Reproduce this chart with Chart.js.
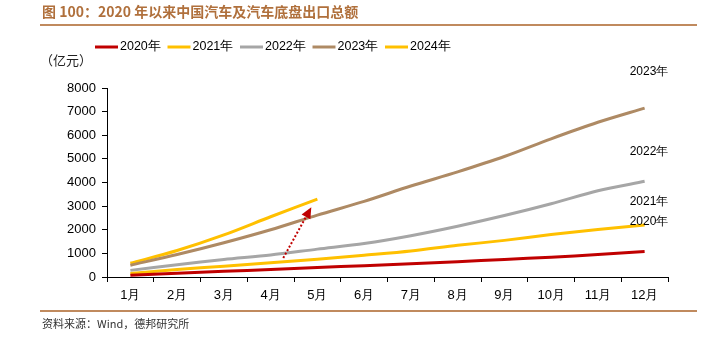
<!DOCTYPE html>
<html>
<head>
<meta charset="utf-8">
<script src="https://cdn.jsdelivr.net/npm/chart.js@4/dist/chart.umd.min.js"></script>
<style>
  html, body { margin: 0; padding: 0; background: #fff; }
  #wrap { width: 717px; height: 348px; position: relative; }
</style>
</head>
<body>
<div id="wrap"><canvas id="chart" width="717" height="348"></canvas></div>
<script>
// data (亿元, cumulative)
const months = ['1月','2月','3月','4月','5月','6月','7月','8月','9月','10月','11月','12月'];
const seriesNames = ['2020年','2021年','2022年','2023年','2024年'];
const v2020 = [70, 160, 240, 320, 400, 480, 560, 650, 740, 840, 950, 1080];
const v2021 = [150, 320, 460, 600, 750, 920, 1100, 1340, 1550, 1800, 2010, 2200];
const v2022 = [280, 520, 740, 930, 1180, 1420, 1750, 2150, 2600, 3100, 3650, 4050];
const v2023 = [500, 950, 1450, 2000, 2620, 3200, 3850, 4450, 5100, 5850, 6550, 7150];
const v2024 = [580, 1120, 1780, 2550, 3300];
const colors = ['#c00000', '#ffc000', '#a6a6a6', '#ae8a64', '#ffc000'];
const yTicks = [0, 1000, 2000, 3000, 4000, 5000, 6000, 7000, 8000];

const allValues = [v2020, v2021, v2022, v2023, v2024];
const FONT = '"Liberation Sans", Arial, sans-serif';
const CJK = '"Noto Sans CJK SC", sans-serif';

const decor = {
  id: 'decor',
  afterDraw(chart) {
    const ctx = chart.ctx;
    const xs = chart.scales.x, ys = chart.scales.y;
    ctx.save();

    // title + rules
    ctx.fillStyle = '#b0703c';
    ctx.font = 'bold 14px ' + CJK;
    ctx.textBaseline = 'middle';
    ctx.textAlign = 'left';
    ctx.fillText('图 100：2020 年以来中国汽车及汽车底盘出口总额', 42, 12);
    ctx.strokeStyle = '#c08a5e';
    ctx.lineWidth = 2;
    ctx.beginPath(); ctx.moveTo(40, 25); ctx.lineTo(697, 25); ctx.stroke();
    ctx.beginPath(); ctx.moveTo(40, 311); ctx.lineTo(697, 311); ctx.stroke();

    // footer
    ctx.fillStyle = '#333';
    ctx.font = '11px ' + CJK;
    ctx.fillText('资料来源：Wind，德邦研究所', 42, 324);

    // unit
    ctx.fillStyle = '#222';
    ctx.font = '13px ' + CJK;
    ctx.fillText('（亿元）', 40, 60);

    // legend
    chart.data.datasets.forEach((ds, i) => {
      const lx = 95 + i * 72.5;
      ctx.strokeStyle = ds.borderColor;
      ctx.lineWidth = 3;
      ctx.beginPath(); ctx.moveTo(lx, 47); ctx.lineTo(lx + 23, 47); ctx.stroke();
      ctx.fillStyle = '#000';
      ctx.font = '12.5px ' + FONT;
      ctx.fillText(ds.label, lx + 25, 47);
    });

    // end labels
    const offs = [-30, -23, -30, -36];
    ctx.font = '12px ' + FONT;
    ctx.fillStyle = '#000';
    for (let i = 0; i < 4; i++) {
      const vals = allValues[i];
      const px = xs.getPixelForValue(vals.length - 1);
      const py = ys.getPixelForValue(vals[vals.length - 1]);
      ctx.fillText(seriesNames[i], px - 15, py + offs[i]);
    }

    // dotted arrow
    const x0 = xs.getPixelForValue(3.27), y0 = ys.getPixelForValue(800);
    const x1 = xs.getPixelForValue(3.87), y1 = ys.getPixelForValue(2950);
    const ang = Math.atan2(y1 - y0, x1 - x0);
    const hl = 11;
    ctx.strokeStyle = '#c00000';
    ctx.fillStyle = '#c00000';
    ctx.lineWidth = 2;
    ctx.setLineDash([2, 2]);
    ctx.beginPath(); ctx.moveTo(x0, y0);
    ctx.lineTo(x1 - hl * Math.cos(ang), y1 - hl * Math.sin(ang)); ctx.stroke();
    ctx.setLineDash([]);
    ctx.beginPath();
    ctx.moveTo(x1, y1);
    ctx.lineTo(x1 - hl * Math.cos(ang) + 5 * Math.sin(ang), y1 - hl * Math.sin(ang) - 5 * Math.cos(ang));
    ctx.lineTo(x1 - hl * Math.cos(ang) - 5 * Math.sin(ang), y1 - hl * Math.sin(ang) + 5 * Math.cos(ang));
    ctx.closePath(); ctx.fill();

    ctx.restore();
  }
};

new Chart(document.getElementById('chart'), {
  type: 'line',
  data: {
    labels: months,
    datasets: seriesNames.map((name, i) => ({
      label: name,
      data: allValues[i],
      borderColor: colors[i],
      backgroundColor: colors[i],
      borderWidth: 3,
      pointRadius: 0,
      tension: 0.3,
      fill: false
    }))
  },
  options: {
    responsive: false,
    animation: false,
    layout: { padding: { top: 88, right: 49, bottom: 41, left: 0 } },
    plugins: { legend: { display: false }, tooltip: { enabled: false } },
    scales: {
      x: {
        offset: true,
        grid: { display: true, drawOnChartArea: false, offset: true, tickLength: 5, color: '#000' },
        border: { display: true, color: '#000', width: 1 },
        ticks: { color: '#000', font: { size: 13, family: FONT }, padding: 6, maxRotation: 0 },
        afterFit(s) { s.height = 30; }
      },
      y: {
        min: 0, max: 8000,
        afterBuildTicks(s) { s.ticks = yTicks.map(v => ({ value: v })); },
        grid: { display: true, drawOnChartArea: false, tickLength: 5, color: '#000' },
        border: { display: true, color: '#000', width: 1 },
        ticks: { color: '#000', font: { size: 13, family: FONT }, padding: 6, callback: v => String(v) },
        afterFit(s) { s.width = 107; }
      }
    }
  },
  plugins: [decor]
});
</script>
</body>
</html>
